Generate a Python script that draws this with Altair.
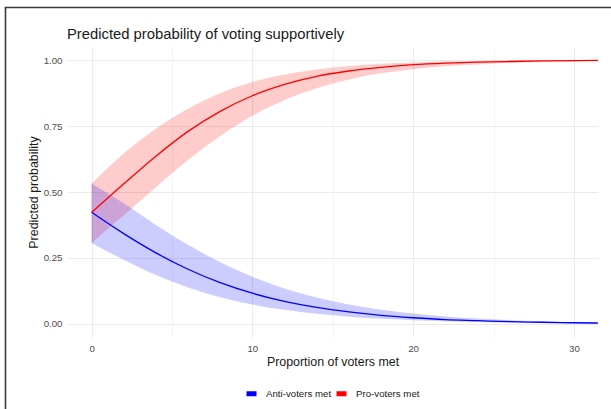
import altair as alt
import pandas as pd

# Proportion of voters met (x) at which the predictions are listed
x_vals = [0, 2, 4, 6, 8, 10, 12, 14, 16, 18, 20, 22, 24, 26, 28, 30, 31.5]

# Pro-voters met: fitted probability and its confidence band
pro_fit = [0.423, 0.531, 0.636, 0.730, 0.806, 0.865, 0.908, 0.939, 0.959, 0.973,
           0.983, 0.989, 0.993, 0.995, 0.997, 0.998, 0.999]
pro_lo = [0.307, 0.412, 0.518, 0.621, 0.712, 0.789, 0.849, 0.894, 0.927, 0.950,
          0.966, 0.977, 0.984, 0.989, 0.993, 0.995, 0.996]
pro_hi = [0.532, 0.646, 0.740, 0.816, 0.875, 0.917, 0.946, 0.965, 0.978, 0.986,
          0.991, 0.995, 0.997, 0.998, 0.999, 0.999, 1.000]

# Anti-voters met: fitted probability and its confidence band
anti_fit = [0.423, 0.342, 0.269, 0.207, 0.156, 0.116, 0.085, 0.062, 0.045, 0.032,
            0.023, 0.016, 0.012, 0.008, 0.006, 0.004, 0.003]
anti_lo = [0.307, 0.243, 0.185, 0.138, 0.101, 0.073, 0.053, 0.038, 0.027, 0.019,
           0.014, 0.010, 0.007, 0.005, 0.003, 0.002, 0.002]
anti_hi = [0.532, 0.457, 0.375, 0.300, 0.234, 0.179, 0.134, 0.100, 0.073, 0.053,
           0.039, 0.028, 0.020, 0.014, 0.010, 0.007, 0.006]

groups = ["Anti-voters met", "Pro-voters met"]
colors = ["#0000FF", "#FF0000"]

x_ticks = [0, 5, 10, 15, 20, 25, 30]
y_ticks = [0, 0.125, 0.25, 0.375, 0.5, 0.625, 0.75, 0.875, 1.0]

title_text = "Predicted probability of voting supportively"

rows = []
for g, fit, lo, hi in [(groups[0], anti_fit, anti_lo, anti_hi),
                       (groups[1], pro_fit, pro_lo, pro_hi)]:
    for xv, f, l, h in zip(x_vals, fit, lo, hi):
        rows.append({"x": xv, "group": g, "fit": f, "lo": l, "hi": h})
df = pd.DataFrame(rows)

FONT = "Liberation Sans"
GRID = "#EBEBEB"

x_scale = alt.Scale(domain=[-1.53, 31.5], nice=False, zero=False)
y_scale = alt.Scale(domain=[-0.05, 1.05], nice=False, zero=False)
color_scale = alt.Scale(domain=groups, range=colors)

x_axis = alt.Axis(
    title="Proportion of voters met",
    values=x_ticks,
    labelExpr="datum.value % 10 == 0 ? datum.label : ''",
    gridWidth={"condition": {"test": "datum.value % 10 != 0", "value": 0.55}, "value": 1.1},
    labelPadding=6,
    titleX=265.5,
    titleY=24,
    titleBaseline="middle",
)
y_axis = alt.Axis(
    title="Predicted probability",
    values=y_ticks,
    labelExpr="datum.value % 0.25 == 0 ? format(datum.value, '.2f') : ''",
    gridWidth={"condition": {"test": "datum.value % 0.25 != 0", "value": 0.55}, "value": 1.1},
    labelPadding=5,
    titleX=-34,
    titleY=145,
    titleBaseline="middle",
    titleAlign="center",
)

base = alt.Chart(df)

band_pro = base.transform_filter(alt.datum.group == groups[1]).mark_area(
    color=colors[1], opacity=0.2, interpolate="monotone"
).encode(
    x=alt.X("x:Q", scale=x_scale, axis=x_axis),
    y=alt.Y("lo:Q", scale=y_scale, axis=y_axis),
    y2="hi:Q",
)

band_anti = base.transform_filter(alt.datum.group == groups[0]).mark_area(
    color=colors[0], opacity=0.2, interpolate="monotone"
).encode(
    x=alt.X("x:Q", scale=x_scale),
    y=alt.Y("lo:Q", scale=y_scale),
    y2="hi:Q",
)

lines = base.mark_line(strokeWidth=1.3, interpolate="monotone").encode(
    x=alt.X("x:Q", scale=x_scale),
    y=alt.Y("fit:Q", scale=y_scale),
    color=alt.Color(
        "group:N",
        scale=color_scale,
        legend=alt.Legend(
            title=None,
            orient="none",
            direction="horizontal",
            legendX=177,
            legendY=339,
            symbolType="stroke",
            symbolSize=100,
            symbolStrokeWidth=5,
            labelFont=FONT,
            labelFontSize=9.7,
            labelColor="#1A1A1A",
            labelOffset=7,
            columnPadding=-6,
        ),
    ),
)

# Single-row source for the frame lines and the heading
one_row = alt.Chart(pd.DataFrame({"k": [0]}))

# Frame lines along the left and top edges of the figure
frame_left = one_row.mark_rule(color="#3A3A3A", strokeWidth=1.6).encode(
    x=alt.value(-61.5), y=alt.value(-39.5), y2=alt.value(370)
)
frame_top = one_row.mark_rule(color="#3A3A3A", strokeWidth=1.6).encode(
    x=alt.value(-62.3), x2=alt.value(550), y=alt.value(-39.5)
)

# Heading, left-aligned with the plotting panel
heading = one_row.mark_text(
    align="left", baseline="alphabetic", font=FONT, fontSize=14.8,
    color="#1A1A1A",
).encode(
    x=alt.value(0), y=alt.value(-8.5), text=alt.value(title_text)
)

chart = alt.layer(
    band_pro, band_anti, lines, frame_left, frame_top, heading
).properties(
    width=531,
    height=290,
    padding={"left": 67, "top": 47, "right": 13, "bottom": 72},
    autosize=alt.AutoSizeParams(type="none"),
).configure_view(
    stroke=None
).configure_axis(
    domain=False,
    ticks=False,
    gridColor=GRID,
    labelFont=FONT,
    labelFontSize=9.7,
    labelColor="#4D4D4D",
    titleFont=FONT,
    titleFontSize=12.4,
    titleFontWeight="normal",
    titleColor="#1A1A1A",
)

chart.save("out.html", embed_options={"renderer": "svg", "actions": False})
